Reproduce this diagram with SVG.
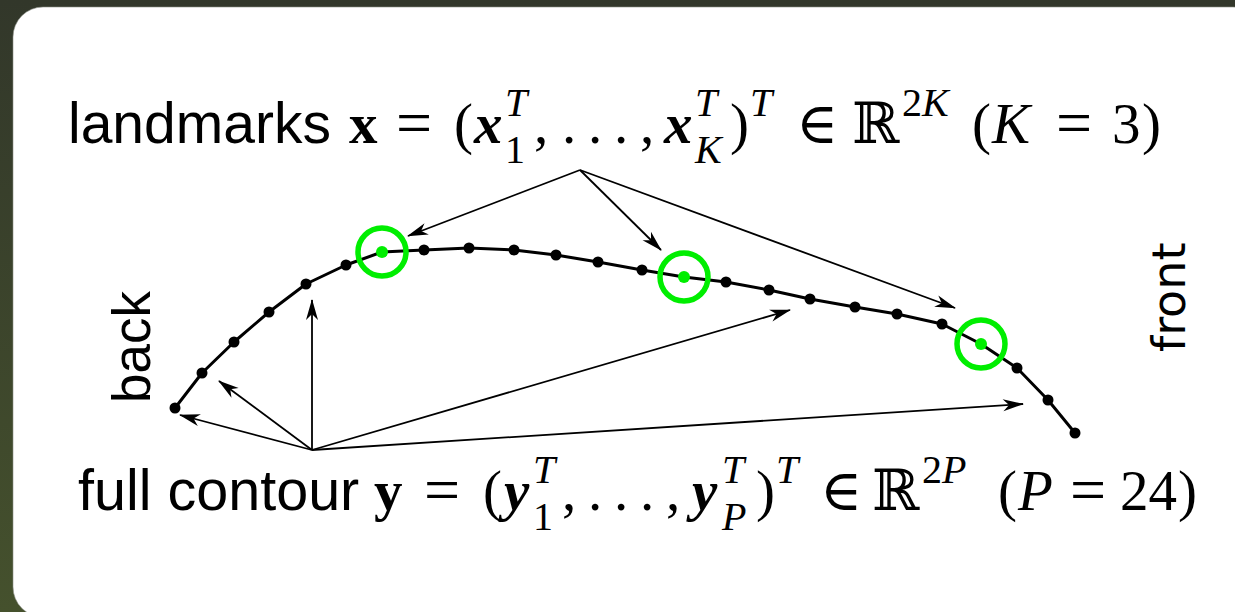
<svg xmlns="http://www.w3.org/2000/svg" width="1235" height="612" viewBox="0 0 1235 612">
<defs>
<linearGradient id="bg" x1="0" y1="0" x2="0" y2="1">
<stop offset="0" stop-color="#32372a"/>
<stop offset="1" stop-color="#45512d"/>
</linearGradient>
<marker id="ah" markerUnits="userSpaceOnUse" markerWidth="24" markerHeight="14" viewBox="-22 -7 24 14" refX="0" refY="0" orient="auto">
<path d="M1,0 L-20,-6 L-14,0 L-20,6 Z" fill="#000"/>
</marker>
<style>
.sans{font-family:"Liberation Sans",Arial,sans-serif;font-size:57px;fill:#000}
.m{font-family:"Liberation Serif","DejaVu Serif",serif;font-size:57px;fill:#000}
.eq{font-size:64px}
.i{font-style:italic}
.b{font-weight:bold}
.s{font-size:40px}
.bb{font-family:"DejaVu Serif",serif}
.arr{stroke:#000;stroke-width:1.8;fill:none;marker-end:url(#ah)}
.curve{stroke:#000;stroke-width:3;fill:none;stroke-linejoin:round}
.pt{fill:#000}
.lm{fill:none;stroke:#00ee00;stroke-width:5.5}
.lmd{fill:#00ee00}
</style>
</defs>
<rect x="0" y="0" width="1235" height="612" fill="url(#bg)"/>
<rect x="13" y="7" width="1250" height="610" rx="30" ry="30" fill="#fff" stroke="#8a8d84" stroke-width="0.6"/>

<g id="connectors">
<line class="arr" x1="580" y1="170" x2="408" y2="236"/>
<line class="arr" x1="580" y1="170" x2="661" y2="250"/>
<line class="arr" x1="580" y1="170" x2="955" y2="308"/>
<line class="arr" x1="312" y1="450" x2="180" y2="415"/>
<line class="arr" x1="312" y1="450" x2="219" y2="381"/>
<line class="arr" x1="312" y1="450" x2="312" y2="300"/>
<line class="arr" x1="312" y1="450" x2="790" y2="310"/>
<line class="arr" x1="312" y1="450" x2="1023" y2="404"/>
</g>

<g id="contour">
<polyline class="curve" points="175,408 202,373 234,342 269,312 306,284 346,265 382,252 424,250 469,248 514,250 556,255 598,262 642,270 684,277 726,282 769,290 810,299 855,307 897,314 942,324 981,344 1017,368 1048,400 1075,433"/>
<g class="pt">
<circle cx="175" cy="408" r="5.5"/><circle cx="202" cy="373" r="5.5"/><circle cx="234" cy="342" r="5.5"/><circle cx="269" cy="312" r="5.5"/><circle cx="306" cy="284" r="5.5"/><circle cx="346" cy="265" r="5.5"/>
<circle cx="424" cy="250" r="5.5"/><circle cx="469" cy="248" r="5.5"/><circle cx="514" cy="250" r="5.5"/><circle cx="556" cy="255" r="5.5"/><circle cx="598" cy="262" r="5.5"/><circle cx="642" cy="270" r="5.5"/>
<circle cx="726" cy="282" r="5.5"/><circle cx="769" cy="290" r="5.5"/><circle cx="810" cy="299" r="5.5"/><circle cx="855" cy="307" r="5.5"/><circle cx="897" cy="314" r="5.5"/><circle cx="942" cy="324" r="5.5"/>
<circle cx="1017" cy="368" r="5.5"/><circle cx="1048" cy="400" r="5.5"/><circle cx="1075" cy="433" r="5.5"/>
</g>
</g>

<g id="landmark1"><circle class="lm" cx="382" cy="252" r="24"/><circle class="lmd" cx="382" cy="252" r="6"/></g>
<g id="landmark2"><circle class="lm" cx="684" cy="277" r="24"/><circle class="lmd" cx="684" cy="277" r="6"/></g>
<g id="landmark3"><circle class="lm" cx="981" cy="344" r="24"/><circle class="lmd" cx="981" cy="344" r="6"/></g>

<g id="label-back"><text class="sans" style="font-size:53px" transform="translate(150,403) rotate(-90)">back</text></g>
<g id="label-front"><text style="font-family:'DejaVu Sans',sans-serif;font-size:46px" transform="translate(1185,352) rotate(-90)">front</text></g>

<g id="label-landmarks">
<text class="sans" x="68" y="143">landmarks</text>
<text class="m b" x="349" y="143">x</text>
<text class="m eq" x="396" y="144">=</text>
<text class="m" x="454" y="143">(</text>
<text class="m b i" x="474" y="143">x</text>
<text class="m i s" x="505" y="116">T</text>
<text class="m s" x="505" y="163">1</text>
<text class="m" x="534" y="143">,</text>
<text class="m" x="562 588 614" y="143">...</text>
<text class="m" x="640" y="143">,</text>
<text class="m b i" x="664" y="143">x</text>
<text class="m i s" x="695" y="116">T</text>
<text class="m i s" x="695" y="163">K</text>
<text class="m" x="730" y="143">)</text>
<text class="m i s" x="750" y="116">T</text>
<text class="m" x="796" y="143">∈</text>
<text class="m bb" x="852" y="143">ℝ</text>
<text class="m s" x="902" y="116">2<tspan class="i">K</tspan></text>
<text class="m" x="972" y="143">(</text>
<text class="m i" x="992" y="143">K</text>
<text class="m eq" x="1056" y="144">=</text>
<text class="m" x="1112" y="143">3</text>
<text class="m" x="1142" y="143">)</text>
</g>

<g id="label-full">
<text class="sans" x="78" y="510" style="font-size:57.5px">full contour</text>
<text class="m b" x="374" y="510">y</text>
<text class="m eq" x="424" y="511">=</text>
<text class="m" x="483" y="510">(</text>
<text class="m b i" x="504" y="510">y</text>
<text class="m i s" x="533" y="483">T</text>
<text class="m s" x="533" y="530">1</text>
<text class="m" x="562" y="510">,</text>
<text class="m" x="588 614 640" y="510">...</text>
<text class="m" x="666" y="510">,</text>
<text class="m b i" x="692" y="510">y</text>
<text class="m i s" x="722" y="483">T</text>
<text class="m i s" x="722" y="530">P</text>
<text class="m" x="756" y="510">)</text>
<text class="m i s" x="776" y="483">T</text>
<text class="m" x="820" y="510">∈</text>
<text class="m bb" x="872" y="510">ℝ</text>
<text class="m s" x="922" y="483">2<tspan class="i">P</tspan></text>
<text class="m" x="998" y="510">(</text>
<text class="m i" x="1018" y="510">P</text>
<text class="m eq" x="1070" y="511">=</text>
<text class="m" x="1120" y="510">24</text>
<text class="m" x="1178" y="510">)</text>
</g>
</svg>
